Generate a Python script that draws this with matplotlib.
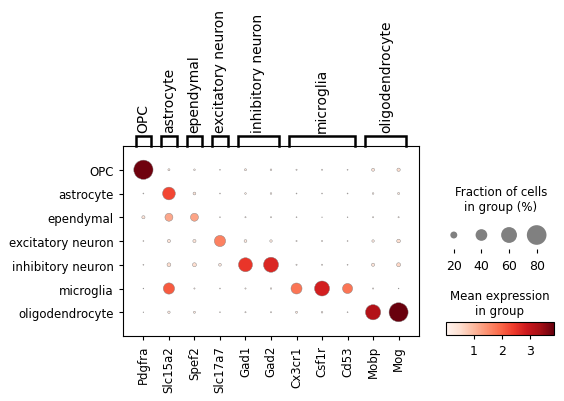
import numpy as np
import matplotlib
matplotlib.use("Agg")
import matplotlib.pyplot as plt
from matplotlib.colors import Normalize

genes = ["Pdgfra", "Slc15a2", "Spef2", "Slc17a7", "Gad1", "Gad2",
         "Cx3cr1", "Csf1r", "Cd53", "Mobp", "Mog"]
groups = ["OPC", "astrocyte", "ependymal", "excitatory neuron",
          "inhibitory neuron", "microglia", "oligodendrocyte"]
# marker gene groups: (label, first gene index, last gene index)
gene_groups = [("OPC", 0, 0), ("astrocyte", 1, 1), ("ependymal", 2, 2),
               ("excitatory neuron", 3, 3), ("inhibitory neuron", 4, 5),
               ("microglia", 6, 8), ("oligodendrocyte", 9, 10)]

# fraction of cells expressing (rows = groups, cols = genes)
frac = np.array([
    [0.78, 0.040, 0.030, 0.015, 0.040, 0.030, 0.020, 0.020, 0.015, 0.065, 0.075],
    [0.015, 0.45, 0.060, 0.015, 0.030, 0.030, 0.015, 0.015, 0.015, 0.030, 0.040],
    [0.070, 0.24, 0.24, 0.015, 0.020, 0.020, 0.015, 0.010, 0.012, 0.020, 0.020],
    [0.015, 0.070, 0.070, 0.38, 0.060, 0.050, 0.020, 0.020, 0.015, 0.050, 0.085],
    [0.015, 0.090, 0.095, 0.060, 0.51, 0.56, 0.020, 0.020, 0.015, 0.070, 0.095],
    [0.012, 0.38, 0.020, 0.015, 0.020, 0.025, 0.37, 0.56, 0.33, 0.020, 0.012],
    [0.010, 0.050, 0.040, 0.015, 0.020, 0.020, 0.040, 0.030, 0.015, 0.57, 0.77],
])
# mean expression in group
expr = np.array([
    [3.80, 0.30, 0.20, 0.20, 0.30, 0.20, 0.20, 0.20, 0.20, 0.40, 0.50],
    [0.20, 2.30, 0.40, 0.20, 0.20, 0.20, 0.20, 0.20, 0.20, 0.20, 0.30],
    [0.40, 1.20, 1.25, 0.20, 0.20, 0.20, 0.20, 0.10, 0.10, 0.20, 0.20],
    [0.20, 0.40, 0.40, 1.65, 0.30, 0.30, 0.20, 0.20, 0.20, 0.30, 0.50],
    [0.20, 0.50, 0.50, 0.30, 2.50, 2.70, 0.20, 0.20, 0.20, 0.40, 0.60],
    [0.10, 2.10, 0.20, 0.20, 0.20, 0.20, 1.80, 2.80, 1.80, 0.20, 0.10],
    [0.10, 0.30, 0.30, 0.20, 0.20, 0.20, 0.30, 0.20, 0.20, 3.20, 3.85],
])

dot_max = 0.8
largest_dot = 200
size_exp = 1.5
cmap = plt.get_cmap("Reds")
norm = Normalize(vmin=0, vmax=3.87)


def dot_size(f):
    return (np.asarray(f) / dot_max) ** size_exp * largest_dot


fig = plt.figure(figsize=(5.64, 4.02), dpi=100)
W, H = 564, 402


def px_axes(x0, y0, x1, y1):
    return fig.add_axes([x0 / W, 1 - y1 / H, (x1 - x0) / W, (y1 - y0) / H])


# main dot plot
ax = px_axes(123, 147, 419, 337)
xx, yy = np.meshgrid(np.arange(len(genes)) + 0.5, np.arange(len(groups)) + 0.5)
ax.scatter(xx.ravel(), yy.ravel(), s=dot_size(frac.ravel()), c=expr.ravel(),
           cmap=cmap, norm=norm, edgecolors="gray", linewidths=0.3, zorder=3)
ax.set_xlim(-0.3, len(genes) + 0.3)
ax.set_ylim(len(groups) + 0.5, -0.5)
ax.set_xticks(np.arange(len(genes)) + 0.5)
ax.set_xticklabels(genes, rotation=90, fontsize=8.5)
ax.set_yticks(np.arange(len(groups)) + 0.5)
ax.set_yticklabels(groups, fontsize=8.5)
ax.tick_params(length=3)

# brackets with gene group labels
axb = px_axes(123, 0, 419, 147)
axb.set_xlim(ax.get_xlim())
axb.set_ylim(0, 147)
axb.axis("off")
for label, i0, i1 in gene_groups:
    left, right = i0 + 0.5 - 0.3, i1 + 0.5 + 0.3
    axb.plot([left, left, right, right], [0, 10, 10, 0], color="black", lw=1.8,
             solid_joinstyle="miter", clip_on=False)
    axb.text((left + right) / 2, 14, label, rotation=90, ha="center", va="bottom",
             fontsize=10)

# size legend
axs = px_axes(440, 222, 556, 250)
sizes = [0.2, 0.4, 0.6, 0.8]
axs.scatter(np.arange(len(sizes)) + 0.5, np.zeros(len(sizes)), s=dot_size(sizes),
            color="gray", edgecolors="none")
axs.set_xlim(0, len(sizes) + 0.2)
axs.set_ylim(-1, 1)
axs.set_xticks(np.arange(len(sizes)) + 0.5)
axs.set_xticklabels([f"{int(s * 100)}" for s in sizes], fontsize=9)
axs.set_yticks([])
for sp in axs.spines.values():
    sp.set_visible(False)
axs.tick_params(axis="x", length=3, pad=4)
fig.text(501 / W, 1 - 200 / H, "Fraction of cells\nin group (%)", ha="center",
         va="center", fontsize=8.5)

# colorbar
axc = px_axes(446, 323, 554, 336)
cb = fig.colorbar(plt.cm.ScalarMappable(norm=norm, cmap=cmap), cax=axc,
                  orientation="horizontal")
cb.set_ticks([1, 2, 3])
axc.tick_params(labelsize=9, length=3)
fig.text(500 / W, 1 - 304 / H, "Mean expression\nin group", ha="center",
         va="center", fontsize=8.5)

fig.savefig("out.png", dpi=100)
plt.close(fig)
